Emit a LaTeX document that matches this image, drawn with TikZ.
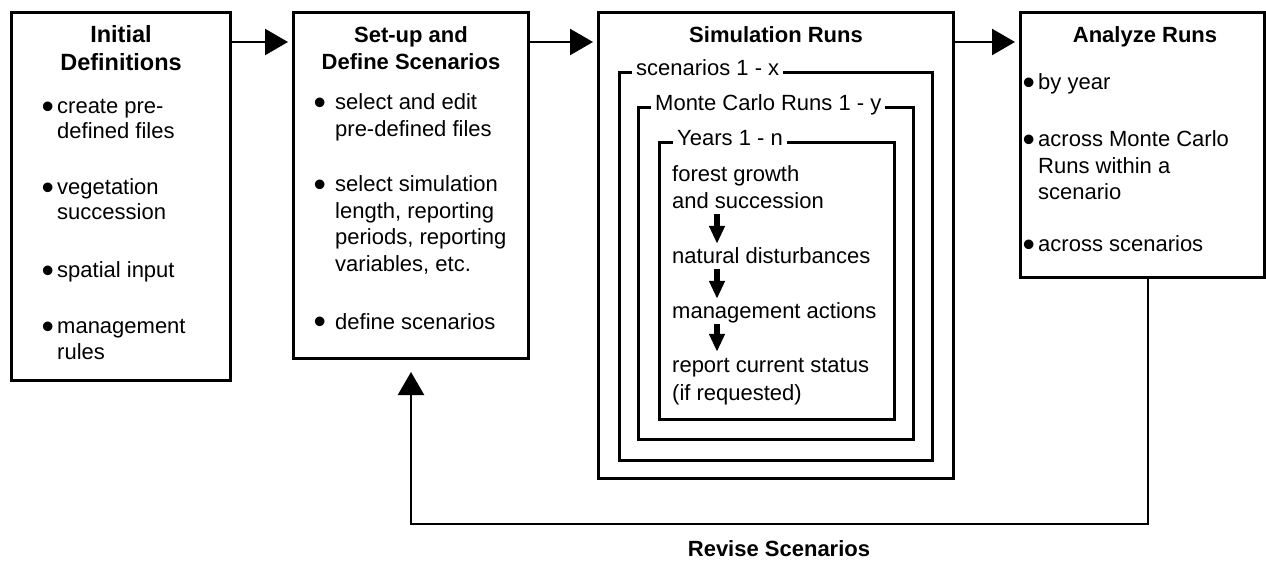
\documentclass[tikz,border=0pt]{standalone}
\usepackage{fontspec}
\setmainfont{Liberation Sans}
\usetikzlibrary{arrows.meta}
\usetikzlibrary{positioning}

\newcommand{\bull}[1]{\makebox[#1][l]{\hspace*{-2.5pt}\raisebox{-4.5pt}{\scalebox{1.6}{\textbullet}}}}

\begin{document}
\begin{tikzpicture}
	[x=1pt,y=-1pt,
	every node/.style={inner sep=0pt,font=\fontsize{22}{26}\selectfont},
	box/.style 2 args={draw,line width=3pt,outer sep=0pt,minimum width=#1,minimum height=#2},
	title/.style={anchor=base,font=\fontsize{22}{26}\selectfont\bfseries},
	line/.style={anchor=base west},
	stepline/.style={anchor=base west,text height=16pt,text depth=5pt},
	framelabel/.style={anchor=mid west,fill=white,inner xsep=4pt},
	bigarrow/.style={line width=2.5pt,-{Triangle[width=26pt,length=23pt]},shorten >=5pt},
	steparrow/.style={line width=6pt,-{Triangle[width=15pt,length=18pt]},shorten >=4pt}]
	\useasboundingbox (0,0) rectangle (1266,561);

	% main boxes
	\node[box={219}{367}] (init) at (120.5,196.5) {};
	\node[box={235}{345}] (setup) at (410.5,185.5) {};
	\node[box={355}{465}] (sim) at (775.5,245.5) {};
	\node[box={244}{265}] (analyze) at (1142,145.5) {};

	% nested loops
	\node[box={313}{387}] (scen) at (775.5,266.5) {};
	\node[box={275}{331}] (mc) at (775.5,273.5) {};
	\node[box={235}{276}] (yrs) at (776.5,281) {};
	\node[framelabel] (scenlbl) at ([xshift=13pt]scen.north west) {scenarios 1 - x};
	\node[framelabel] (mclbl) at ([xshift=13pt]mc.north west) {Monte Carlo Runs 1 - y};
	\node[framelabel] (yrslbl) at ([xshift=14pt]yrs.north west) {Years 1 - n};

	% titles
	\node[title,font=\fontsize{23.5}{28}\selectfont\bfseries] (initt1) at (121,43) {Initial};
	\node[title,font=\fontsize{23.5}{28}\selectfont\bfseries] (initt2) at (121,71) {Definitions};
	\node[title] (setupt1) at (411,43) {Set-up and};
	\node[title] (setupt2) at (411,70) {Define Scenarios};
	\node[title] (simt) at (776,43) {Simulation Runs};
	\node[title] (analyzet) at (1145,43) {Analyze Runs};

	% box texts
	\foreach \x/\y/\t [count=\i] in {44/114/{\bull{13pt}create pre-},57/139/{defined files},
		44/195/{\bull{13pt}vegetation},57/220/succession,44/278/{\bull{13pt}spatial input},
		44/334/{\bull{13pt}management},57/359/rules}
	\node[line] (init-\i) at (\x,\y) {\t};
	\foreach \x/\y/\t [count=\i] in {316/110/{\bull{19pt}select and edit},335/137/{pre-defined files},
		316/192/{\bull{19pt}select simulation},335/219/{length, reporting},335/245/{periods, reporting},
		335/272/{variables, etc.},316/329/{\bull{19pt}define scenarios}}
	\node[line] (setup-\i) at (\x,\y) {\t};
	\foreach \x/\y/\t [count=\i] in {1025/90/{\bull{13pt}by year},1025/147/{\bull{13pt}across Monte Carlo},
		1038/174/{Runs within a},1038/200/scenario,1025/252/{\bull{13pt}across scenarios}}
	\node[line] (analyze-\i) at (\x,\y) {\t};

	% yearly steps
	\node[stepline] (yr1) at (672,182) {forest growth};
	\node[stepline] (yr2) at (672,209) {and succession};
	\node[stepline] (yr3) at (672,264) {natural disturbances};
	\node[stepline] (yr4) at (672,319) {management actions};
	\node[stepline] (yr5) at (672,372) {report current status};
	\node[stepline] (yr6) at (672,400) {(if requested)};
	\foreach \a/\b in {yr2/yr3, yr3/yr4, yr4/yr5}
	\draw[steparrow] ([xshift=45pt]\a.south west) -- ([xshift=45pt]\b.north west);

	% flow
	\coordinate (lvl) at (0,42);
	\foreach \from/\to in {init/setup, setup/sim, sim/analyze}
	\draw[bigarrow] (\from.east |- lvl) -- (\to.west |- lvl);
	\coordinate (fbr) at (1148,524);
	\coordinate (fbl) at (411,524);
	\draw[bigarrow,shorten >=14pt] (analyze.south -| fbr) -- (fbr) -- (fbl) -- (setup.south -| fbl);
	\node[title] (revise) at (779,556) {Revise Scenarios};
\end{tikzpicture}
\end{document}
